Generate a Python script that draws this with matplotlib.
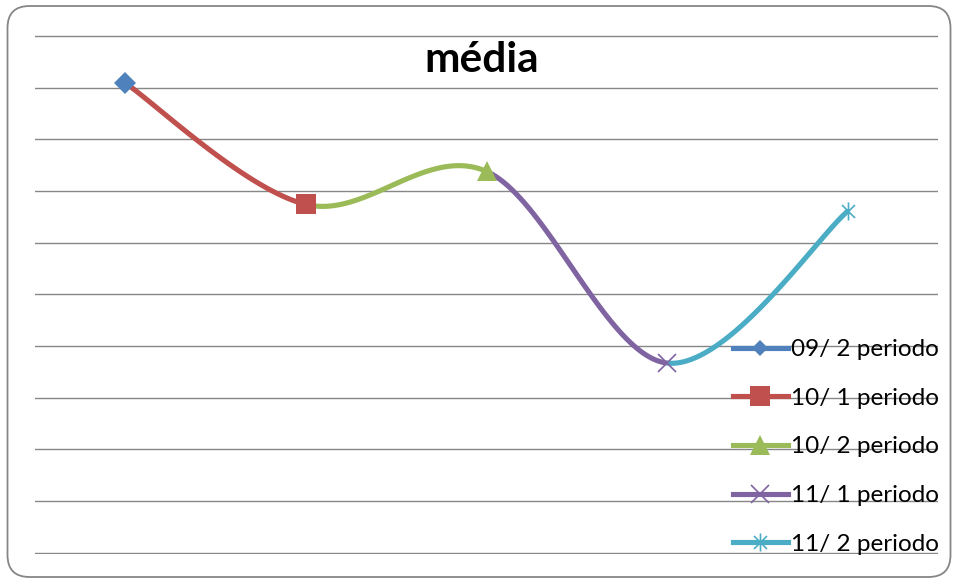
import numpy as np
import matplotlib
matplotlib.use("Agg")
import matplotlib.pyplot as plt
from matplotlib.lines import Line2D
from matplotlib.patches import FancyBboxPatch
from matplotlib.path import Path

plt.rcParams["font.family"] = ["Lato", "DejaVu Sans"]

periodos = ["09/ 2 periodo", "10/ 1 periodo", "10/ 2 periodo", "11/ 1 periodo", "11/ 2 periodo"]
media = [9.09, 6.74, 7.38, 3.67, 6.61]
cores = ["#4F81BD", "#C0504D", "#9BBB59", "#8064A2", "#4BACC6"]

# marcador "estrela" do Excel: vertical + X
estrela = Path(
    [(0, -1), (0, 1), (-0.72, -0.72), (0.72, 0.72), (-0.72, 0.72), (0.72, -0.72)],
    [Path.MOVETO, Path.LINETO, Path.MOVETO, Path.LINETO, Path.MOVETO, Path.LINETO],
)
marcadores = [
    dict(marker="D", markersize=10.7, markeredgewidth=0),
    dict(marker="s", markersize=14, markeredgewidth=0),
    dict(marker="^", markersize=15, markeredgewidth=0),
    dict(marker="x", markersize=13, markeredgewidth=1.2),
    dict(marker=estrela, markersize=13, markeredgewidth=1.2),
]


def suavizar(xs, ys, i, n=60):
    """Bezier estilo Excel entre o ponto i-1 e i."""
    pts = np.column_stack([xs, ys]).astype(float)
    k = len(pts)
    p0 = pts[max(i - 2, 0)]
    p1 = pts[i - 1]
    p2 = pts[i]
    p3 = pts[min(i + 1, k - 1)]
    c1 = p1 + (p2 - p0) / 6
    c2 = p2 - (p3 - p1) / 6
    t = np.linspace(0, 1, n)[:, None]
    curva = (1 - t) ** 3 * p1 + 3 * (1 - t) ** 2 * t * c1 + 3 * (1 - t) * t ** 2 * c2 + t ** 3 * p2
    return curva[:, 0], curva[:, 1]


fig = plt.figure(figsize=(9.57, 5.78), dpi=100)
ax = fig.add_axes([35 / 957, (578 - 553.7) / 578, 903 / 957, (553.7 - 35) / 578])

x = np.arange(len(media))
for i in range(1, len(media)):
    cx, cy = suavizar(x, media, i)
    ax.plot(cx, cy, color=cores[i], lw=3.7, solid_capstyle="butt", zorder=3)

for i in range(len(media)):
    m = marcadores[i]
    ax.plot(x[i], media[i], linestyle="none", color=cores[i],
            markerfacecolor=cores[i], markeredgecolor=cores[i], zorder=4, **m)

ax.set_xlim(-0.5, len(media) - 0.5)
ax.set_ylim(-0.02, 10.02)
ax.set_yticks(range(0, 11))
ax.set_xticks([])
ax.tick_params(left=False, labelleft=False)
ax.grid(axis="y", color="#878787", lw=1.0)
ax.set_axisbelow(True)
for s in ax.spines.values():
    s.set_visible(False)

handles = []
for i in range(len(media)):
    m = dict(marcadores[i])
    if i == 0:
        m["markersize"] = 8.5  # losango menor na legenda
    handles.append(Line2D([0], [0], color=cores[i], lw=3.7, markerfacecolor=cores[i],
                          markeredgecolor=cores[i], **m))
fig.legend(handles, periodos, loc="upper left",
           bbox_to_anchor=(733 / 957, (578 - 339) / 578), bbox_transform=fig.transFigure,
           frameon=False, fontsize=17.5, handlelength=2.25, handletextpad=0.15,
           labelspacing=1.14, borderpad=0, borderaxespad=0)

fig.text(482 / 957, (578 - 72) / 578, "média", ha="center", va="baseline",
         fontsize=30.5, fontweight="bold")

moldura = FancyBboxPatch((0.075, 0.01), 9.43, 5.71,
                         boxstyle="round,pad=0,rounding_size=0.22",
                         transform=fig.dpi_scale_trans, facecolor="none",
                         edgecolor="#868686", lw=1.3)
fig.patches.append(moldura)

fig.savefig("out.png", dpi=100)
